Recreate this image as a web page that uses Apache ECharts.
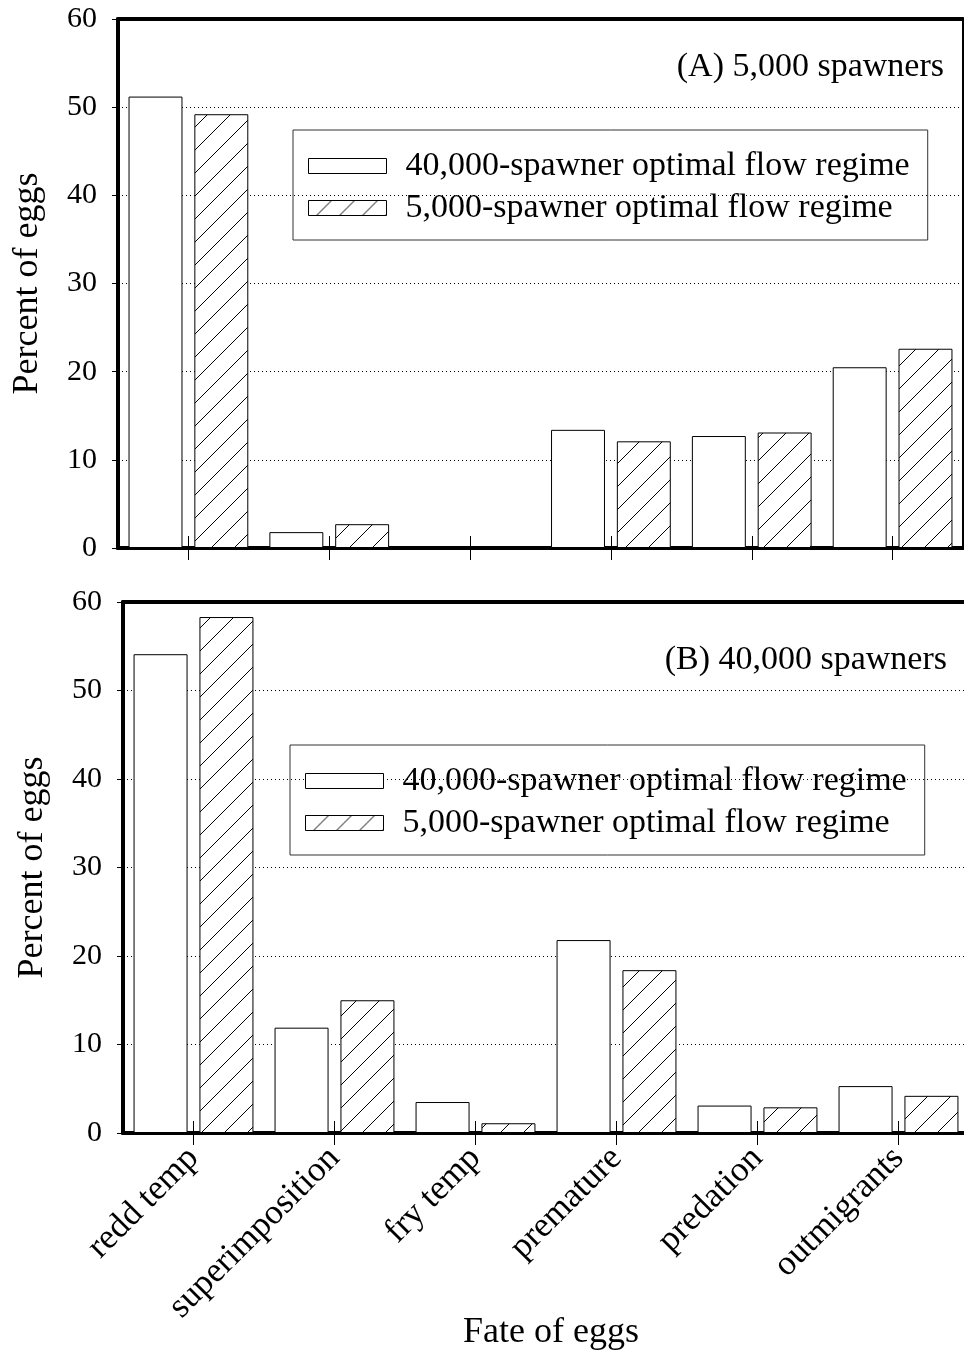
<!DOCTYPE html>
<html>
<head>
    <meta charset="utf-8">
    <title>Fate of eggs</title>
    <script src="https://cdn.jsdelivr.net/npm/echarts@6/dist/echarts.min.js"></script>
    <style>
        html, body { margin: 0; padding: 0; background: #fff; }
    </style>
</head>
<body>
    <div id="main" style="width: 964px;height:1352px;"></div>

    <script type="text/javascript">
    // data
    var categories = ['redd temp', 'superimposition', 'fry temp', 'premature', 'predation', 'outmigrants'];
    var seriesNames = ['40,000-spawner optimal flow regime', '5,000-spawner optimal flow regime'];
    var panelTitles = ['(A) 5,000 spawners', '(B) 40,000 spawners'];
    // panel A: 5,000 spawners
    var a_flow40k = [51.2, 1.8, 0, 13.4, 12.7, 20.5];
    var a_flow5k = [49.2, 2.7, 0, 12.1, 13.1, 22.6];
    // panel B: 40,000 spawners
    var b_flow40k = [54.1, 11.9, 3.5, 21.8, 3.1, 5.3];
    var b_flow5k = [58.3, 15.0, 1.1, 18.4, 2.9, 4.2];
    var yTicks = [0, 10, 20, 30, 40, 50, 60];

    var font = "'Liberation Serif', 'Times New Roman', serif";

    // hatch "/" pattern
    function makeHatch() {
        var s = 23;
        var c = document.createElement('canvas');
        c.width = s; c.height = s;
        var ctx = c.getContext('2d');
        ctx.fillStyle = '#fff';
        ctx.fillRect(0, 0, s, s);
        ctx.strokeStyle = '#000';
        ctx.lineWidth = 1;
        ctx.beginPath();
        ctx.moveTo(0, s); ctx.lineTo(s, 0);
        ctx.moveTo(-2, 2); ctx.lineTo(2, -2);
        ctx.moveTo(s - 2, s + 2); ctx.lineTo(s + 2, s - 2);
        ctx.stroke();
        return c;
    }
    var hatch = { image: makeHatch(), repeat: 'repeat' };

    var myChart = echarts.init(document.getElementById('main'));

    function xAxes(gridIndex, withLabels) {
        return [
            {   // ticks going up into the plot, labels
                gridIndex: gridIndex,
                type: 'category',
                data: categories,
                position: 'bottom',
                axisLine: { show: true, lineStyle: { color: '#000', width: 4 } },
                axisTick: { show: true, inside: true, length: 12, alignWithLabel: true, lineStyle: { color: '#000', width: 1 } },
                axisLabel: withLabels ? {
                    show: true, rotate: 45, margin: 20, interval: 0,
                    color: '#000', fontFamily: font, fontSize: 35
                } : { show: false },
                splitLine: { show: false },
                name: withLabels ? 'Fate of eggs' : '',
                nameLocation: 'middle',
                nameGap: 182,
                nameMoveOverlap: false,
                nameTextStyle: { color: '#000', fontFamily: font, fontSize: 36, padding: [0, 0, 0, 10] }
            },
            {   // ticks going down below the axis
                gridIndex: gridIndex,
                type: 'category',
                data: categories,
                position: 'bottom',
                axisLine: { show: true, lineStyle: { color: '#000', width: 4 } },
                axisTick: { show: true, inside: false, length: 12, alignWithLabel: true, lineStyle: { color: '#000', width: 1 } },
                axisLabel: { show: false },
                splitLine: { show: false }
            },
            {   // thick top frame
                gridIndex: gridIndex,
                type: 'category',
                data: categories,
                position: 'top',
                axisLine: { show: true, lineStyle: { color: '#000', width: 4 } },
                axisTick: { show: false },
                axisLabel: { show: false },
                splitLine: { show: false }
            }
        ];
    }

    function yAxis(gridIndex) {
        return {
            gridIndex: gridIndex,
            type: 'value',
            min: yTicks[0],
            max: yTicks[yTicks.length - 1],
            interval: 10,
            name: 'Percent of eggs',
            nameLocation: 'middle',
            nameGap: 72,
            nameMoveOverlap: false,
            nameTextStyle: { color: '#000', fontFamily: font, fontSize: 36 },
            axisLine: { show: true, lineStyle: { color: '#000', width: 4 } },
            axisTick: { show: true, length: 6, lineStyle: { color: '#000', width: 1 } },
            axisLabel: { color: '#000', fontFamily: font, fontSize: 30, margin: 21 },
            splitLine: { show: true, lineStyle: { color: '#000', width: 1, type: [1, 3] } }
        };
    }

    function barSeries(name, data, axisIdx, yIdx, hatched) {
        return {
            name: name,
            type: 'bar',
            xAxisIndex: axisIdx,
            yAxisIndex: yIdx,
            data: data,
            barWidth: '38.3%',
            barGap: '22%',
            itemStyle: {
                color: hatched ? hatch : '#fff',
                borderColor: '#000',
                borderWidth: 1
            },
            emphasis: { disabled: true },
            animation: false
        };
    }

    function legendFor(left, top) {
        return {
            data: seriesNames,
            orient: 'vertical',
            left: left,
            top: top,
            icon: 'rect',
            itemWidth: 78,
            itemHeight: 15,
            itemGap: 8,
            padding: [19, 18, 15, 15],
            borderColor: '#333',
            borderWidth: 1,
            selectedMode: false,
            itemStyle: { borderColor: '#000', borderWidth: 1 },
            textStyle: { color: '#000', fontFamily: font, fontSize: 34, lineHeight: 34, padding: [0, 0, 0, 14] }
        };
    }

    var option = {
        backgroundColor: '#fff',
        animation: false,
        title: [
            { text: panelTitles[0], right: 20, top: 50, textStyle: { color: '#000', fontFamily: font, fontSize: 34, fontWeight: 'normal' }, padding: 0 },
            { text: panelTitles[1], right: 17, top: 643, textStyle: { color: '#000', fontFamily: font, fontSize: 34, fontWeight: 'normal' }, padding: 0 }
        ],
        legend: [legendFor(293, 130), legendFor(290, 745)],
        grid: [
            { left: 118, top: 19, width: 845, height: 529, outerBoundsMode: 'none', show: true, borderColor: '#000', borderWidth: 2, backgroundColor: 'transparent' },
            { left: 123, top: 602, width: 846, height: 531, outerBoundsMode: 'none', show: true, borderColor: '#000', borderWidth: 2, backgroundColor: 'transparent' }
        ],
        xAxis: xAxes(0, false).concat(xAxes(1, true)),
        yAxis: [yAxis(0), yAxis(1)],
        series: [
            barSeries(seriesNames[0], a_flow40k, 0, 0, false),
            barSeries(seriesNames[1], a_flow5k, 0, 0, true),
            barSeries(seriesNames[0], b_flow40k, 3, 1, false),
            barSeries(seriesNames[1], b_flow5k, 3, 1, true)
        ]
    };

    myChart.setOption(option);
    </script>
</body>
</html>
